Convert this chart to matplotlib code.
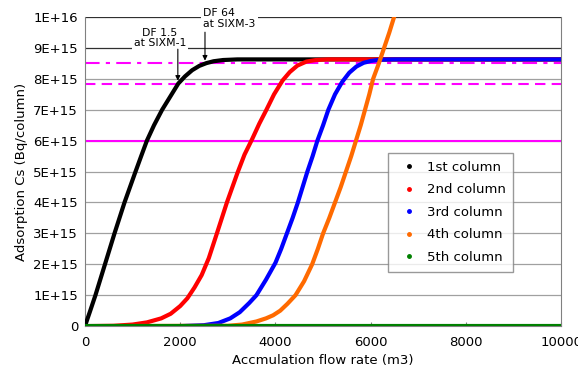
import matplotlib.pyplot as plt
from matplotlib.lines import Line2D

# values (y in units of 1E+15 Bq/column)
black_x = [0, 100, 220, 420, 620, 830, 1050, 1180, 1300, 1450, 1620, 1800, 1960, 2100, 2250, 2400,
           2550, 2700, 2900, 3200, 10000]
black_y = [0, 0.45, 1.0, 2.0, 3.0, 4.0, 4.95, 5.5, 6.0, 6.5, 7.0, 7.45, 7.85, 8.08, 8.28, 8.42,
           8.51, 8.57, 8.61, 8.63, 8.63]

red_x = [0, 600, 1000, 1300, 1600, 1800, 2000, 2150, 2300, 2450, 2600, 2770, 2980, 3200, 3350,
         3510, 3660, 3810, 3970, 4150, 4300, 4460, 4650, 4850, 5100, 10000]
red_y = [0, 0.01, 0.05, 0.12, 0.25, 0.4, 0.65, 0.9, 1.25, 1.65, 2.2, 3.0, 4.0, 4.95, 5.55,
         6.05, 6.55, 7.0, 7.5, 7.95, 8.22, 8.43, 8.56, 8.61, 8.63, 8.63]

blue_x = [0, 2000, 2500, 2800, 3050, 3250, 3450, 3600, 3800, 4000, 4120, 4240, 4360, 4470, 4570,
          4670, 4780, 4880, 5000, 5110, 5250, 5400, 5550, 5700, 5850, 6000, 6200, 6500, 10000]
blue_y = [0, 0.0, 0.03, 0.1, 0.25, 0.45, 0.75, 1.0, 1.5, 2.05, 2.5, 3.0, 3.5, 4.0, 4.5,
          5.0, 5.5, 6.0, 6.5, 7.0, 7.5, 7.9, 8.2, 8.4, 8.52, 8.58, 8.62, 8.63, 8.63]

orange_x = [0, 3000, 3300, 3600, 3800, 3950, 4100, 4250, 4420, 4600, 4770, 4890, 5000, 5130, 5250,
            5370, 5480, 5590, 5690, 5790, 5880, 5970, 6050, 6170, 6280, 6390, 6490, 6600]
orange_y = [0, 0.01, 0.05, 0.15, 0.25, 0.35, 0.5, 0.72, 1.0, 1.45, 2.0, 2.5, 3.0, 3.5, 4.0,
            4.5, 5.0, 5.5, 6.0, 6.5, 7.0, 7.5, 8.0, 8.5, 9.0, 9.5, 10.0, 10.5]

green_x = [0, 10000]
green_y = [0, 0]

labels = ["1st column", "2nd column", "3rd column", "4th column", "5th column"]
colors = ["black", "#ff0000", "#0000ff", "#ff6a00", "#008000"]

df_lines = [6.0, 7.85, 8.5]
y_ticks = [i * 1e15 for i in range(11)]
y_labels = ["0"] + ["%dE+15" % i for i in range(1, 10)] + ["1E+16"]

fig = plt.figure(figsize=(5.78, 3.71), dpi=100)
ax = fig.add_axes([0.147, 0.121, 0.824, 0.833])

for y in y_ticks[1:]:
    gc = "#303030" if y >= 9e15 else "#a0a0a0"
    ax.axhline(y, color=gc, lw=0.9, zorder=1)

ax.axhline(df_lines[0] * 1e15, color="#ff00ff", lw=1.5, zorder=2)
ax.axhline(df_lines[1] * 1e15, color="#ff00ff", lw=1.5, ls=(0, (5, 3)), zorder=2)
ax.axhline(df_lines[2] * 1e15, color="#ff00ff", lw=1.5, ls=(0, (7, 3, 2, 3)), zorder=2)

series = [(black_x, black_y), (red_x, red_y), (blue_x, blue_y), (orange_x, orange_y), (green_x, green_y)]
for (xs, ys), c in zip(series, colors):
    ax.plot(xs, [v * 1e15 for v in ys], color=c, lw=3, zorder=3, solid_joinstyle="round")

ax.set_xlim(0, 10000)
ax.set_ylim(0, 1e16)
ax.set_xticks([0, 2000, 4000, 6000, 8000, 10000])
ax.set_yticks(y_ticks)
ax.set_yticklabels(y_labels)
ax.tick_params(axis="both", labelsize=9.5, direction="in", length=3, color="#808080")
ax.tick_params(axis="x", pad=7)
ax.tick_params(axis="y", length=0, pad=5)
for s in ["left", "right", "bottom"]:
    ax.spines[s].set_color("#808080")
ax.spines["top"].set_visible(False)

ax.set_xlabel("Accmulation flow rate (m3)", fontsize=9.5, labelpad=4)
ax.set_ylabel("Adsorption Cs (Bq/column)", fontsize=9.5, labelpad=4)

# annotations
ax.text(1575, 9.32e15, "DF 1.5\nat SIXM-1", fontsize=7.8, ha="center", va="center",
        linespacing=1.1, bbox=dict(facecolor="white", edgecolor="none", pad=1.5), zorder=4)
ax.annotate("", xy=(1950, 7.85e15), xytext=(1950, 9.05e15),
            arrowprops=dict(arrowstyle="-|>", color="black", lw=0.8, mutation_scale=7), zorder=4)
ax.text(2480, 9.95e15, "DF 64\nat SIXM-3", fontsize=7.8, ha="left", va="center",
        linespacing=1.1, bbox=dict(facecolor="white", edgecolor="none", pad=1.5), zorder=4,
        clip_on=False)
ax.annotate("", xy=(2520, 8.5e15), xytext=(2520, 9.6e15),
            arrowprops=dict(arrowstyle="-|>", color="black", lw=0.8, mutation_scale=7), zorder=4)

handles = [Line2D([], [], marker="o", ls="none", color=c, markersize=2.5) for c in colors]
leg = ax.legend(handles, labels, loc="upper left", bbox_to_anchor=(0.637, 0.56),
                borderaxespad=0, fontsize=9.5, frameon=True, fancybox=False, handletextpad=0.3,
                labelspacing=0.72, borderpad=0.6, handlelength=2.0)
leg.get_frame().set_edgecolor("#808080")
leg.get_frame().set_linewidth(1.0)
leg.set_zorder(5)

fig.savefig("out.png", dpi=100)
